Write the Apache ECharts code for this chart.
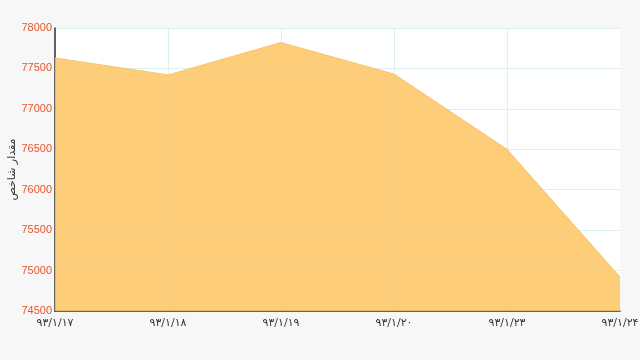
<!DOCTYPE html>
<html><head><meta charset="utf-8">
<script src="https://cdn.jsdelivr.net/npm/echarts@6/dist/echarts.min.js"></script>
<style>html,body{margin:0;padding:0;background:#f7f7f7;}#c{width:640px;height:360px;}</style>
</head><body><div id="c"></div>
<script>
var categories = ['۹۳/۱/۱۷','۹۳/۱/۱۸','۹۳/۱/۱۹','۹۳/۱/۲۰','۹۳/۱/۲۳','۹۳/۱/۲۴'];
var values = [77630, 77420, 77820, 77430, 76500, 74920];
var yName = 'مقدار شاخص';
var chart = echarts.init(document.getElementById('c'));
chart.setOption({
  animation: false,
  backgroundColor: '#f7f7f7',
  grid: {left: 55, right: 20, top: 28, bottom: 49, show: true, backgroundColor: '#ffffff', borderWidth: 0, containLabel: false, outerBoundsMode: 'none'},
  xAxis: {
    type: 'category', data: categories, boundaryGap: false,
    axisLine: {lineStyle: {color: '#333', width: 1.5}},
    axisTick: {show: false},
    axisLabel: {color: '#333', fontSize: 11, fontFamily: 'DejaVu Sans', margin: 7, showMaxLabel: true, showMinLabel: true, interval: 0},
    splitLine: {show: true, interval: function (i) { return i < categories.length - 1; }, lineStyle: {color: '#dcf0f0', width: 1}}
  },
  yAxis: {
    type: 'value', min: 74500, max: 78000, interval: 500,
    name: yName, nameLocation: 'middle', nameGap: 37, nameRotate: 90, nameMoveOverlap: false,
    nameTextStyle: {color: '#333', fontSize: 11, fontFamily: 'DejaVu Sans'},
    axisLine: {show: true, lineStyle: {color: '#333', width: 1.5}},
    axisTick: {show: false},
    axisLabel: {color: '#e8552b', fontSize: 11, fontFamily: 'Liberation Sans', margin: 3, formatter: function (v) { return String(v); }},
    splitLine: {show: true, lineStyle: {color: '#dcf0f0', width: 1}}
  },
  series: [{
    type: 'line', data: values, symbol: 'none',
    lineStyle: {color: '#f9c46c', width: 1},
    areaStyle: {color: '#fdc463', opacity: 0.85, origin: 'start'},
    z: 1
  }]
});
</script></body></html>
